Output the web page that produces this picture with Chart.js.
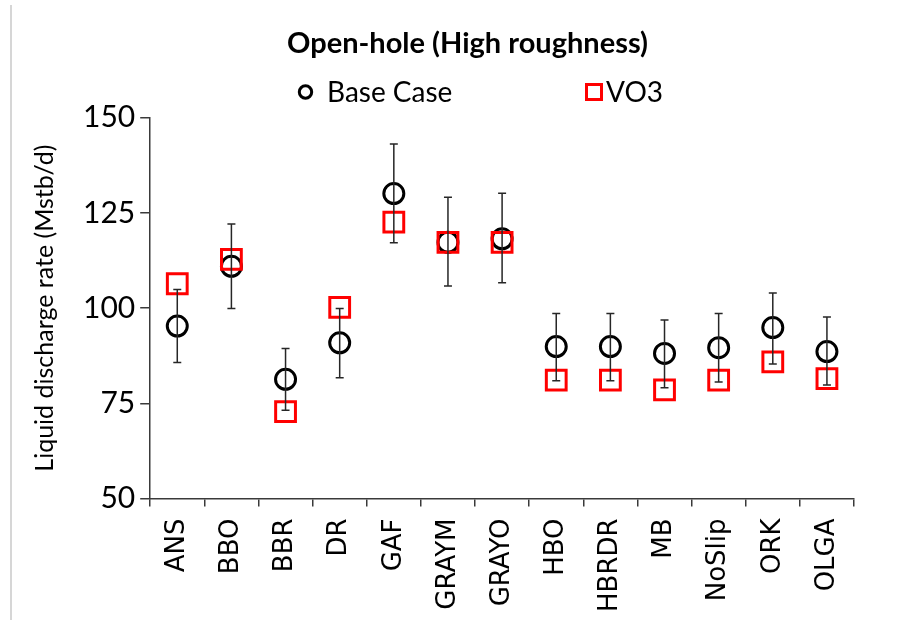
<!DOCTYPE html>
<html>
<head>
<meta charset="utf-8">
<script src="https://cdn.jsdelivr.net/npm/chart.js@4.4.1/dist/chart.umd.min.js"></script>
<style>
  html, body { margin: 0; padding: 0; background: #fff; }
  #wrap { position: relative; width: 915px; height: 636px; }
  #edge { position: absolute; left: 10px; top: 5px; width: 2px; height: 615px; background: #d6d6d6; }
</style>
</head>
<body>
<div id="wrap">
  <canvas id="rateChart" width="915" height="636"></canvas>
  <div id="edge"></div>
</div>
<script>
const models = ['ANS', 'BBO', 'BBR', 'DR', 'GAF', 'GRAYM', 'GRAYO', 'HBO', 'HBRDR', 'MB', 'NoSlip', 'ORK', 'OLGA'];
const baseCase = [95.3, 111.0, 81.3, 90.9, 130.1, 117.3, 118.2, 89.9, 89.9, 88.1, 89.6, 94.9, 88.6];
const vo3 = [106.4, 112.8, 72.8, 100.2, 122.6, 117.3, 117.3, 81.1, 81.1, 78.5, 81.1, 85.9, 81.5];
// error bar ends on the base case points
const baseLow = [85.7, 99.9, 73.2, 81.7, 117.2, 105.8, 106.7, 80.9, 80.9, 79.1, 80.6, 85.3, 79.8];
const baseHigh = [104.9, 122.1, 89.4, 99.9, 143.1, 129.1, 130.2, 98.6, 98.6, 96.9, 98.6, 104.0, 97.7];
const yTicks = [50, 75, 100, 125, 150];

const axisColor = '#3a3a3a';

const errorBars = {
  id: 'errorBars',
  afterDatasetsDraw(chart) {
    const { ctx, scales: { x, y } } = chart;
    ctx.save();
    ctx.strokeStyle = '#262626';
    ctx.lineWidth = 1.5;
    baseLow.forEach((lo, i) => {
      const px = x.getPixelForValue(i);
      const top = y.getPixelForValue(baseHigh[i]);
      const bot = y.getPixelForValue(lo);
      ctx.beginPath();
      ctx.moveTo(px, top);
      ctx.lineTo(px, bot);
      ctx.moveTo(px - 4, top);
      ctx.lineTo(px + 4, top);
      ctx.moveTo(px - 4, bot);
      ctx.lineTo(px + 4, bot);
      ctx.stroke();
    });
    ctx.restore();
  }
};

// legend row under the title, with the wide gap between the two entries
const seriesKey = {
  id: 'seriesKey',
  afterDraw(chart) {
    const { ctx } = chart;
    const [base, alt] = chart.data.datasets;
    const y = 92;
    ctx.save();
    ctx.font = '28px Lato';
    ctx.textBaseline = 'middle';
    ctx.fillStyle = '#000';

    ctx.strokeStyle = base.borderColor;
    ctx.lineWidth = 3;
    ctx.beginPath();
    ctx.arc(305.5, y, 6.2, 0, Math.PI * 2);
    ctx.stroke();
    ctx.fillText(base.label, 327, y + 1);

    ctx.strokeStyle = alt.borderColor;
    ctx.lineWidth = 3;
    ctx.strokeRect(586.5, y - 7.5, 15, 15);
    ctx.fillText(alt.label, 606, y + 1);
    ctx.restore();
  }
};

new Chart(document.getElementById('rateChart'), {
  type: 'line',
  data: {
    labels: models,
    datasets: [
      {
        label: 'Base Case',
        data: baseCase,
        showLine: false,
        pointStyle: 'circle',
        pointRadius: 10,
        pointHoverRadius: 10,
        borderWidth: 3,
        borderColor: '#000',
        backgroundColor: 'rgba(0,0,0,0)',
        order: 1
      },
      {
        label: 'VO3',
        data: vo3,
        showLine: false,
        pointStyle: 'rect',
        pointRadius: 14,
        pointHoverRadius: 14,
        borderWidth: 3,
        borderColor: '#ff0000',
        backgroundColor: 'rgba(0,0,0,0)',
        order: 0
      }
    ]
  },
  options: {
    responsive: false,
    animation: false,
    events: [],
    layout: {
      padding: { left: 20, right: 0, top: 0, bottom: 12 }
    },
    plugins: {
      legend: { display: false },
      tooltip: { enabled: false },
      title: {
        display: true,
        text: 'Open-hole (High roughness)',
        color: '#000',
        font: { family: 'Lato', size: 29, weight: 'bold' },
        padding: { top: 26, bottom: 57 }
      }
    },
    scales: {
      x: {
        offset: true,
        grid: { offset: true, drawOnChartArea: false, tickLength: 8, color: axisColor, lineWidth: 1.5 },
        border: { color: axisColor, width: 1.5 },
        ticks: {
          autoSkip: false,
          minRotation: 90,
          maxRotation: 90,
          padding: 12,
          color: '#000',
          font: { family: 'DejaVu Sans', size: 26 }
        }
      },
      y: {
        min: 50,
        max: 150,
        afterBuildTicks: (s) => { s.ticks = yTicks.map(v => ({ value: v })); },
        grid: { drawOnChartArea: false, tickLength: 10, color: axisColor, lineWidth: 1.5 },
        border: { color: axisColor, width: 1.5 },
        ticks: {
          padding: 5,
          color: '#000',
          font: { family: 'Lato', size: 30 }
        },
        title: {
          display: true,
          text: 'Liquid discharge rate (Mstb/d)',
          color: '#000',
          font: { family: 'Lato', size: 25 },
          padding: { top: 10, bottom: 18 }
        }
      },
      // empty right-hand axis that only keeps space beside the plot
      yRight: {
        type: 'linear',
        position: 'right',
        display: true,
        grid: { display: false },
        border: { display: false },
        ticks: { display: false },
        afterFit: (s) => { s.width = 61; }
      }
    }
  },
  plugins: [errorBars, seriesKey]
});
</script>
</body>
</html>
